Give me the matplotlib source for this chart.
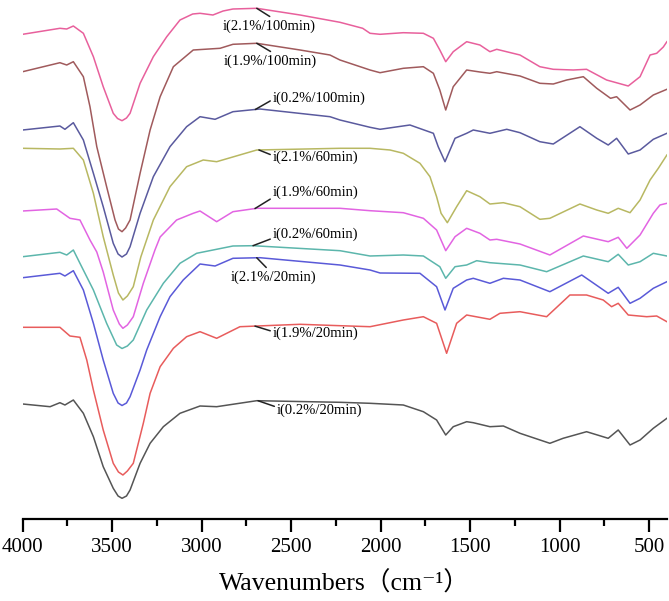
import numpy as np
import matplotlib
matplotlib.use('Agg')
from matplotlib import pyplot as plt
from matplotlib.ticker import MultipleLocator

# FTIR spectra, transmittance in arbitrary units (stacked)
labels = ["i(2.1%/100min)", "i(1.9%/100min)", "i(0.2%/100min)",
	"i(2.1%/60min)", "i(1.9%/60min)", "i(0.2%/60min)",
	"i(2.1%/20min)", "i(1.9%/20min)", "i(0.2%/20min)"]
colors = ['#e8609c', '#a05a5c', '#5a5a9e', '#b8b862', '#e264e2', '#5cb6ac', '#5a5ad8', '#e85c5c', '#555555']

wn_a = [4000, 3792, 3754, 3717, 3661, 3605, 3550, 3494, 3470, 3445, 3420, 3400, 3344, 3270, 3195, 3121, 3050, 3009, 2937, 2880, 2825, 2692, 2450, 2227, 2100, 2059, 2003, 1873, 1761, 1705, 1669, 1636, 1594, 1519, 1445, 1389, 1351, 1221, 1110, 1035, 923, 849, 737, 616, 550, 494, 457, 420, 400]
t_a = [484.7, 490.7, 490, 493, 485.7, 462.3, 432.3, 405.7, 400.5, 398.3, 401, 405.7, 435.7, 462.3, 482.3, 499, 505, 505.7, 504, 508, 510, 510.7, 504, 496.7, 490.7, 485.7, 484.7, 486.3, 485.7, 480.7, 469, 457.3, 467.3, 477.3, 474, 467.3, 469.7, 464, 452.3, 449.7, 449, 449.7, 439, 433, 442.3, 464, 465.7, 472, 477.3]

wn_b = [4000, 3792, 3754, 3717, 3661, 3624, 3586, 3531, 3484, 3465, 3445, 3425, 3400, 3344, 3288, 3232, 3158, 3047, 2897, 2825, 2692, 2450, 2283, 2227, 2059, 2003, 1873, 1761, 1705, 1669, 1636, 1594, 1519, 1445, 1389, 1351, 1221, 1110, 1035, 960, 867, 792, 715, 681, 606, 550, 476, 400]
t_b = [447.3, 456.3, 454, 457.3, 442.3, 412.3, 372.3, 332.3, 299, 290, 287.3, 291, 299, 345.7, 389, 422.3, 452.3, 469, 470.7, 474.7, 475.7, 469, 464, 459, 449, 446.3, 450.7, 452.3, 445.7, 429, 409, 432.3, 449, 447, 445.7, 447.3, 443, 435.7, 435, 439, 442.3, 430.7, 420.7, 422.3, 409, 414, 424, 429.7]

wn_c = [4000, 3792, 3764, 3717, 3661, 3605, 3550, 3494, 3467, 3445, 3420, 3400, 3344, 3270, 3177, 3084, 3009, 2925, 2825, 2674, 2283, 2227, 2059, 2003, 1836, 1705, 1678, 1640, 1584, 1519, 1482, 1389, 1295, 1221, 1110, 1035, 886, 792, 728, 681, 616, 550, 476, 400]
t_c = [389, 393, 389.7, 396.3, 379, 345.7, 312.3, 275.7, 265, 262, 265, 272.3, 305.7, 342.3, 372.3, 392.3, 402.3, 399.7, 407.3, 410, 402.3, 399, 391.7, 389.7, 394, 385.7, 372.3, 357.3, 380.7, 385.7, 389, 385.7, 389.7, 386.3, 377.3, 375, 392.3, 380.7, 374, 380.7, 365, 369, 379.7, 385.7]

wn_d = [4000, 3792, 3717, 3661, 3605, 3550, 3494, 3465, 3440, 3415, 3382, 3340, 3270, 3177, 3084, 2991, 2916, 2692, 2227, 2059, 1947, 1873, 1780, 1724, 1687, 1662, 1627, 1575, 1519, 1445, 1389, 1314, 1221, 1110, 1054, 886, 792, 728, 672, 606, 550, 494, 448, 400]
t_d = [370.7, 370, 370.7, 359, 325.7, 282.3, 244, 226, 219, 223, 232.3, 262, 299, 332.3, 352.3, 359, 357.3, 369, 370.7, 370.7, 369, 365.7, 355.7, 342.3, 322.3, 305.7, 296.3, 312.3, 328.3, 322.3, 315, 316.3, 312.3, 299.7, 300.7, 315, 309, 305.7, 310.7, 306.3, 319, 339, 350.7, 364]

wn_e = [4000, 3810, 3736, 3680, 3624, 3586, 3550, 3494, 3460, 3440, 3415, 3382, 3326, 3261, 3232, 3140, 3047, 3009, 2916, 2825, 2692, 2227, 2059, 1873, 1761, 1687, 1636, 1584, 1519, 1445, 1389, 1351, 1221, 1054, 867, 728, 672, 624, 550, 476, 439, 400]
t_e = [308, 310, 300.7, 299, 279, 267, 247, 209, 195, 190.7, 194, 202.3, 235.7, 269, 282, 299, 305.7, 308, 297.3, 307.3, 310.7, 310.7, 308.3, 306.3, 300.7, 289, 268.3, 282.3, 290.7, 285.7, 279, 279.7, 275, 264, 283, 277.3, 281.7, 270.7, 284, 305.7, 314, 315.7]

wn_f = [4000, 3792, 3754, 3717, 3680, 3605, 3531, 3475, 3445, 3415, 3382, 3307, 3214, 3121, 3028, 2825, 2713, 2227, 2059, 1873, 1761, 1669, 1636, 1584, 1519, 1463, 1389, 1221, 1072, 867, 728, 672, 616, 550, 476, 400]
t_f = [262.3, 266.7, 264, 269, 255.7, 229, 195.7, 174, 170.5, 173, 179, 209, 235.7, 255.7, 265.7, 273, 273.3, 268.3, 263, 264, 263, 252.3, 240.7, 252.3, 254, 258.3, 256.3, 254, 247.3, 263, 257.3, 264.7, 254, 257.3, 265.7, 263]

wn_g = [4000, 3792, 3764, 3717, 3661, 3605, 3550, 3494, 3467, 3445, 3420, 3400, 3344, 3307, 3232, 3177, 3103, 3009, 2925, 2825, 2674, 2227, 2059, 2003, 1780, 1687, 1640, 1594, 1519, 1482, 1389, 1314, 1221, 1054, 876, 728, 672, 606, 550, 476, 400]
t_g = [241.3, 245.7, 243, 248.3, 229, 195.7, 159, 125.7, 116, 113.5, 116, 122.3, 149, 169, 202.3, 222.3, 239, 255, 253, 260.7, 261.3, 254, 249, 246, 245.7, 232.3, 209, 230.7, 239, 240.7, 235.7, 240.7, 239, 227.3, 244, 225.7, 231.7, 215.7, 220.7, 230.7, 237.3]

wn_h = [4000, 3792, 3736, 3680, 3642, 3605, 3550, 3494, 3465, 3440, 3415, 3382, 3326, 3288, 3232, 3158, 3084, 3009, 2916, 2786, 2450, 2227, 2059, 1873, 1761, 1687, 1631, 1575, 1519, 1389, 1333, 1221, 1072, 942, 849, 756, 709, 672, 616, 513, 457, 400]
t_h = [191.7, 191.7, 183, 181.7, 159, 129, 89, 55.7, 47, 44, 48, 55.7, 95.7, 125.7, 152.3, 170.7, 182.3, 187.3, 180.7, 192.3, 194.7, 193.3, 192.3, 199, 202.3, 195.7, 165.7, 195.7, 204, 199.7, 205.7, 207.3, 202.3, 224, 224, 219, 212.3, 215.7, 204, 202.3, 203, 197.3]

wn_i = [4000, 3847, 3792, 3764, 3717, 3661, 3605, 3550, 3494, 3467, 3445, 3420, 3400, 3344, 3288, 3214, 3121, 3009, 2916, 2692, 2227, 2059, 1873, 1761, 1687, 1636, 1594, 1519, 1482, 1389, 1314, 1221, 1054, 980, 849, 728, 672, 606, 550, 476, 400]
t_i = [115, 112.3, 116.3, 114, 119, 105.7, 82.3, 52.3, 30.7, 23, 20.7, 23, 29, 55.7, 75.7, 92.3, 105.7, 113, 112.3, 118.3, 116.7, 115.7, 114, 107.3, 99, 84, 92.3, 97.3, 96.3, 92.3, 93, 85.7, 75.7, 80.7, 87.3, 80.7, 89, 74, 79, 90.7, 100.7]

series = [(wn_a, t_a), (wn_b, t_b), (wn_c, t_c), (wn_d, t_d), (wn_e, t_e),
	(wn_f, t_f), (wn_g, t_g), (wn_h, t_h), (wn_i, t_i)]

# label anchor on curve (wavenumber), text position (wavenumber, level), alignment, leader attach point
lab_wn = [2692, 2692, 2700, 2680, 2702, 2713, 2692, 2702, 2685]
txt_wn = [2621, 2615, 2601, 2601, 2601, 2601, 2600, 2601, 2578]
txt_t = [493, 458, 421, 362, 327, 285, 242, 186, 109]
txt_ha = ['center', 'center', 'left', 'left', 'left', 'left', 'center', 'left', 'left']
relpos = [(0.55, 1.0), (0.55, 1.0), (0.0, 0.4), (0.0, 0.6), (0.0, 0.1), (0.0, 0.2), (0.45, 1.0), (0.0, 0.6), (0.0, 0.7)]

serif = ['Liberation Serif', 'DejaVu Serif', 'Noto Sans CJK SC']
plt.rcParams['font.family'] = serif

fig = plt.figure(figsize=(6.69, 6.01), dpi=100)
ax = fig.add_axes([22.7/669, 82/601, 644.2/669, 519/601])

for (wn, t), c in zip(series, colors):
	ax.plot(wn, t, color=c, lw=1.1)

for k in range(len(labels)):
	wn, t = series[k]
	y0 = np.interp(lab_wn[k], wn[::-1], t[::-1])
	ax.annotate(labels[k], xy=(lab_wn[k], y0), xytext=(txt_wn[k], txt_t[k]),
		ha=txt_ha[k], va='center', fontsize=10.5,
		arrowprops=dict(arrowstyle='-', color='#222222', lw=1.1, shrinkA=0, shrinkB=0, relpos=relpos[k]))

ax.set_xlim(4000, 400)
ax.set_ylim(0, 519)
for s in ['left', 'right', 'top']:
	ax.spines[s].set_visible(False)
ax.spines['bottom'].set_linewidth(1.6)
ax.set_yticks([])
ax.xaxis.set_major_locator(MultipleLocator(500))
ax.xaxis.set_minor_locator(MultipleLocator(250))
ax.tick_params(axis='x', which='major', direction='out', length=9, width=1.6, labelsize=15, pad=5)
ax.tick_params(axis='x', which='minor', direction='out', length=5, width=1.6)
ax.set_xlabel('Wavenumbers（cm⁻¹）', fontsize=18.5, labelpad=10)

plt.savefig('out.png', dpi=100)
